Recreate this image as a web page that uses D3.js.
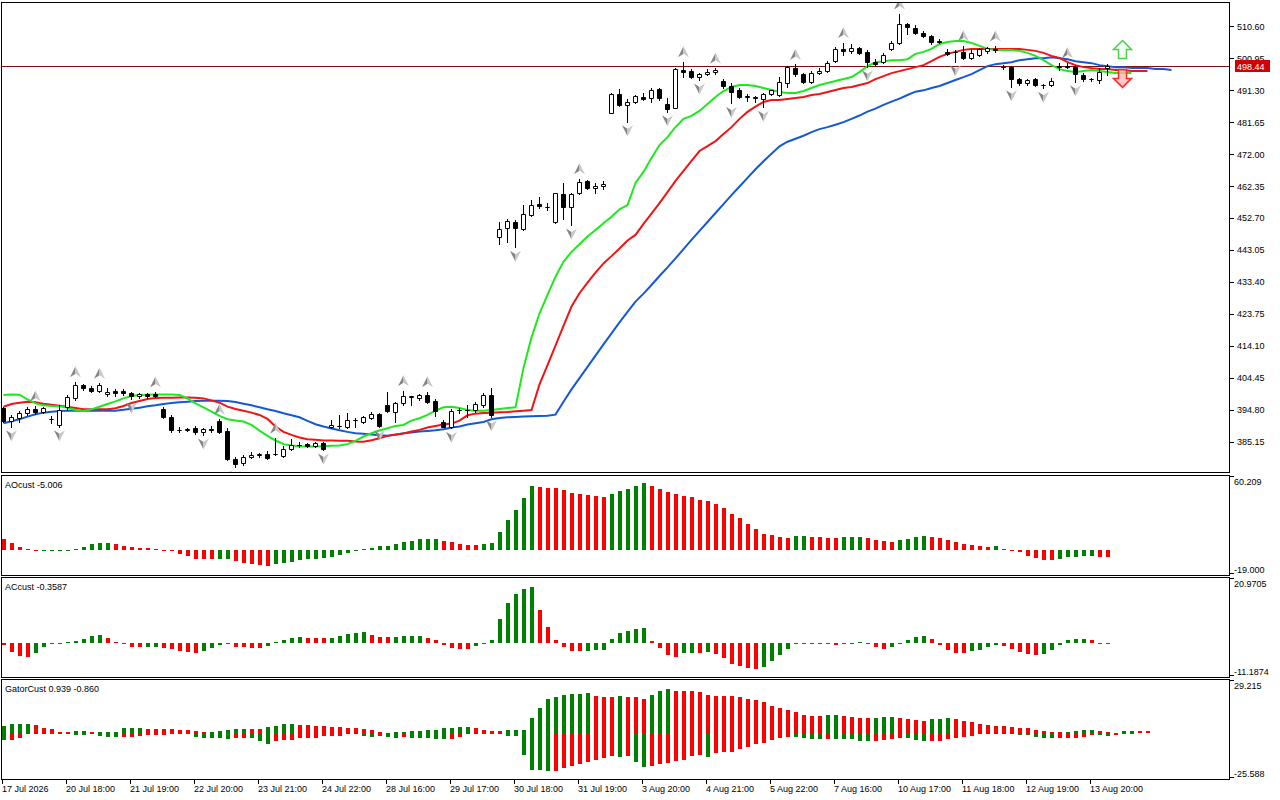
<!DOCTYPE html>
<html>
<head>
<meta charset="utf-8">
<title>Alligator chart</title>
<script src="https://cdn.jsdelivr.net/npm/d3@7/dist/d3.min.js"></script>
<style>
  html, body { margin: 0; padding: 0; background: #fff; }
  #chart { width: 1280px; height: 800px; }
  .chart-svg { display: block; font-family: "Liberation Sans", Arial, sans-serif; font-size: 9px; }
</style>
</head>
<body>
<div id="chart"></div>
<script>
// H1 candles
const openP = [
  395.51, 391.59, 392.29, 393.80, 395.10, 394.30, 392.09, 390.28, 395.81, 398.32,
  402.34, 401.54, 400.53, 399.53, 400.43, 400.53, 399.83, 399.12, 399.53, 399.63,
  395.00, 392.59, 388.77, 388.87, 389.27, 388.07, 388.97, 391.48, 388.47, 380.03,
  378.72, 380.73, 381.33, 381.53, 381.53, 380.93, 382.94, 384.25, 384.55, 383.95,
  384.75, 389.57, 390.07, 389.77, 391.78, 391.28, 392.28, 393.49, 396.30, 394.29,
  396.81, 398.82, 398.52, 399.32, 397.51, 391.28, 389.77, 394.79, 394.70, 394.79,
  396.30, 399.22, 446.87, 449.58, 451.59, 449.48, 453.60, 456.92, 456.11, 451.39,
  459.93, 455.91, 460.13, 463.85, 461.64, 462.34, 484.46, 489.99, 486.68, 487.58,
  489.29, 488.79, 491.50, 486.98, 485.97, 497.33, 497.03, 495.32, 496.13, 496.63,
  494.01, 492.61, 491.30, 489.29, 489.05, 488.69, 489.99, 489.79, 493.31, 497.83,
  496.13, 493.81, 496.33, 497.03, 500.15, 503.56, 503.16, 503.86, 502.66, 499.84,
  499.84, 503.76, 505.37, 511.20, 509.90, 508.59, 507.58, 505.97, 502.86, 502.86,
  502.86, 500.85, 501.85, 503.16, 503.56, 498.34, 498.13, 494.52, 493.51, 494.52,
  492.81, 492.81, 498.34, 498.40, 498.13, 495.83, 494.62, 494.32, 497.90,
];
const highP = [
  395.81, 393.29, 394.60, 395.81, 396.00, 395.81, 392.99, 396.31, 399.33, 403.35,
  402.70, 402.04, 402.90, 401.34, 401.13, 401.03, 400.13, 399.90, 399.83, 400.20,
  395.81, 393.29, 389.78, 389.47, 389.98, 389.27, 389.98, 391.99, 389.27, 380.53,
  381.23, 382.24, 381.73, 382.44, 386.26, 383.95, 386.06, 385.25, 384.75, 385.25,
  385.25, 391.78, 393.29, 393.99, 392.28, 392.99, 394.29, 393.79, 400.33, 397.31,
  400.63, 399.02, 399.52, 400.30, 398.01, 391.78, 394.99, 395.30, 396.30, 397.31,
  400.02, 401.33, 451.59, 452.29, 452.09, 456.62, 458.12, 458.93, 457.12, 460.33,
  463.15, 460.33, 464.50, 464.20, 463.35, 463.95, 490.29, 491.50, 488.59, 489.79,
  490.29, 491.80, 491.80, 488.79, 497.83, 499.84, 497.53, 496.53, 497.53, 497.83,
  494.52, 493.31, 491.80, 490.09, 489.49, 490.50, 491.30, 495.12, 498.50, 499.00,
  496.53, 497.03, 497.83, 500.15, 504.37, 505.57, 505.30, 504.17, 503.36, 500.55,
  502.36, 506.08, 514.22, 511.40, 510.90, 509.19, 507.89, 506.58, 503.56, 503.36,
  504.67, 503.36, 504.10, 504.30, 504.60, 498.84, 498.54, 494.82, 494.62, 495.02,
  493.11, 494.82, 499.34, 499.54, 498.54, 496.33, 494.82, 497.83, 499.00,
];
const lowP = [
  391.28, 389.78, 391.28, 393.29, 393.50, 393.80, 390.98, 389.78, 394.80, 397.82,
  400.83, 400.33, 400.13, 399.02, 399.02, 399.23, 398.12, 398.50, 398.52, 398.82,
  392.29, 388.27, 388.27, 388.37, 387.56, 387.25, 388.27, 387.77, 379.72, 377.51,
  378.22, 380.23, 380.73, 380.03, 381.23, 380.53, 382.74, 383.75, 383.54, 383.54,
  382.74, 389.27, 389.27, 389.27, 389.57, 390.98, 391.98, 389.77, 394.29, 391.28,
  396.30, 396.30, 397.81, 397.01, 392.99, 389.57, 389.27, 393.79, 392.79, 394.29,
  395.80, 392.79, 444.86, 445.56, 443.85, 449.08, 453.30, 455.61, 455.11, 451.29,
  452.29, 450.58, 459.93, 461.34, 460.33, 461.34, 484.26, 486.47, 481.75, 487.28,
  488.28, 487.78, 488.28, 484.77, 485.87, 495.32, 494.82, 494.32, 495.83, 496.13,
  491.80, 487.28, 488.79, 487.98, 487.78, 486.07, 489.69, 489.49, 492.10, 495.52,
  493.51, 493.51, 496.13, 496.83, 499.84, 501.85, 502.56, 502.16, 498.30, 498.70,
  499.34, 503.36, 505.27, 508.19, 508.09, 507.18, 505.17, 505.37, 501.85, 499.84,
  500.55, 500.55, 501.55, 502.36, 502.86, 497.53, 492.30, 492.80, 492.81, 492.61,
  491.80, 492.51, 497.33, 497.83, 493.81, 494.11, 494.00, 493.31, 495.90,
];
const closeP = [
  391.59, 392.59, 393.80, 395.10, 394.10, 395.30, 392.19, 394.80, 398.72, 402.34,
  401.34, 400.53, 402.24, 400.23, 400.03, 399.83, 399.12, 399.73, 399.02, 399.02,
  392.59, 388.77, 388.87, 388.97, 388.07, 388.97, 388.87, 388.27, 379.92, 378.52,
  380.53, 381.23, 381.43, 380.23, 381.63, 382.94, 384.25, 384.35, 383.95, 384.75,
  382.94, 390.27, 390.00, 391.78, 391.70, 392.59, 393.49, 390.07, 394.59, 396.81,
  399.02, 398.90, 399.22, 397.31, 394.59, 389.77, 394.39, 394.70, 394.79, 396.50,
  399.22, 393.29, 449.28, 451.79, 449.58, 453.90, 456.62, 456.31, 456.05, 460.13,
  456.11, 459.93, 463.65, 461.64, 462.34, 462.95, 490.09, 486.78, 487.58, 489.49,
  488.59, 491.30, 488.99, 485.57, 497.63, 496.83, 495.32, 496.13, 496.83, 497.33,
  492.51, 490.80, 489.29, 489.35, 488.99, 490.00, 491.20, 493.81, 498.34, 496.13,
  493.81, 496.33, 497.13, 499.34, 503.56, 503.16, 503.86, 502.56, 499.84, 499.14,
  501.85, 505.37, 511.20, 510.20, 508.39, 507.58, 505.87, 505.92, 502.16, 502.80,
  500.85, 502.36, 503.66, 503.86, 503.50, 498.30, 494.52, 493.31, 494.32, 492.81,
  492.75, 494.11, 498.40, 498.34, 496.13, 494.52, 494.52, 496.83, 498.44,
];

// alligator lines as drawn (already shifted forward: jaw 8, teeth 5, lips 3 bars)
const jawLine = [
  390.8, 391.4, 392.0, 392.8, 393.5, 394.0, 394.3, 394.5, 394.6, 394.6,
  394.6, 394.6, 394.6, 394.6, 394.6, 394.9, 395.2, 395.5, 395.9, 396.2,
  396.6, 396.9, 397.1, 397.3, 397.5, 397.6, 397.6, 397.6, 397.5, 397.2,
  396.7, 396.2, 395.6, 395.0, 394.5, 393.8, 393.2, 392.6, 391.5, 390.5,
  389.8, 389.2, 388.7, 388.2, 387.8, 387.6, 387.4, 387.2, 387.0, 387.3,
  387.8, 388.0, 388.3, 388.5, 388.7, 389.0, 389.5, 389.8, 390.4, 390.8,
  391.2, 392.0, 392.4, 392.6, 392.7, 392.8, 392.9, 393.0, 393.1, 393.4,
  397.3, 401.0, 404.4, 407.8, 411.2, 414.6, 417.9, 421.2, 424.4, 427.5,
  429.9, 432.5, 435.2, 437.8, 440.5, 443.3, 446.1, 448.8, 451.5, 454.2,
  456.9, 459.6, 462.2, 464.8, 467.4, 469.8, 472.1, 474.3, 475.7, 476.6,
  477.5, 478.6, 479.5, 480.1, 480.8, 481.6, 482.6, 483.6, 484.8, 485.7,
  486.8, 487.8, 488.7, 489.8, 490.8, 491.2, 491.9, 492.5, 493.4, 494.3,
  495.2, 496.1, 497.3, 498.5, 499.1, 499.4, 499.7, 500.3, 500.6, 500.9,
  500.9, 501.2, 500.9, 500.6, 500.0, 499.7, 499.4, 498.8, 498.5, 498.2,
  498.2, 497.9, 497.9, 497.9, 497.6, 497.6, 497.3,
];
const teethLine = [
  395.8, 396.6, 397.0, 397.3, 397.1, 396.7, 396.4, 396.1, 395.8, 395.4,
  395.0, 395.0, 395.0, 395.0, 395.3, 396.0, 396.9, 397.5, 398.1, 398.4,
  398.5, 398.5, 398.6, 398.6, 398.5, 398.3, 397.7, 397.0, 395.8, 395.1,
  394.6, 394.0, 393.3, 392.1, 389.8, 388.2, 387.3, 386.5, 386.0, 385.8,
  385.6, 385.6, 385.5, 385.5, 385.3, 385.2, 385.7, 386.3, 387.0, 387.4,
  387.7, 388.3, 388.8, 389.5, 390.0, 390.4, 390.7, 391.6, 393.2, 393.7,
  393.9, 394.0, 394.1, 394.2, 394.4, 394.6, 394.8, 402.5, 408.3, 414.2,
  420.2, 426.0, 430.0, 433.2, 436.2, 439.0, 441.2, 443.5, 445.9, 447.6,
  450.9, 454.0, 457.2, 460.5, 463.9, 466.9, 469.9, 472.9, 474.4, 475.9,
  478.0, 480.1, 482.6, 484.7, 486.3, 487.7, 488.3, 488.3, 488.6, 488.9,
  489.2, 489.8, 490.1, 490.7, 491.3, 491.9, 492.2, 492.8, 493.4, 494.6,
  495.5, 496.4, 497.0, 497.6, 498.2, 498.8, 500.0, 501.3, 502.2, 502.8,
  503.4, 503.7, 503.7, 503.7, 503.7, 503.7, 503.7, 503.7, 503.4, 503.1,
  502.5, 501.6, 501.0, 499.7, 498.8, 498.2, 497.9, 497.6, 497.6, 497.3,
  497.3, 497.0, 497.0, 497.0,
];
const lipsLine = [
  399.3, 399.5, 399.4, 398.0, 396.8, 396.2, 396.0, 395.9, 395.5, 394.8,
  394.5, 395.0, 395.8, 396.6, 397.4, 398.3, 399.0, 399.3, 399.4, 399.5,
  399.5, 399.5, 399.3, 398.3, 396.8, 395.6, 394.3, 393.0, 392.0, 391.6,
  391.3, 390.3, 388.6, 387.0, 385.6, 384.5, 384.1, 383.9, 383.8, 383.8,
  383.9, 384.0, 384.1, 384.5, 385.5, 386.8, 387.8, 388.6, 389.3, 390.0,
  390.3, 391.6, 392.3, 393.3, 394.6, 395.6, 395.8, 395.4, 394.8, 394.6,
  394.6, 394.8, 395.1, 395.4, 395.6, 407.5, 416.7, 423.9, 429.5, 435.0,
  439.5, 442.5, 444.8, 447.1, 449.1, 451.1, 453.1, 455.3, 456.6, 463.3,
  466.6, 470.8, 474.7, 477.1, 480.1, 482.6, 483.5, 485.0, 487.1, 489.2,
  491.0, 492.2, 492.8, 492.8, 492.5, 491.9, 491.3, 490.7, 490.4, 490.4,
  491.0, 491.9, 492.8, 493.4, 494.0, 494.6, 495.2, 496.7, 498.5, 499.7,
  500.0, 500.3, 500.3, 500.6, 502.2, 502.8, 503.7, 505.2, 505.8, 506.1,
  506.1, 505.5, 504.6, 503.7, 503.4, 503.4, 503.4, 503.1, 502.5, 501.6,
  500.3, 498.8, 497.6, 497.0, 496.7, 497.0, 497.3, 497.0, 496.7, 496.4,
  496.4, 496.4,
];

// fractal bars (index of the bar that carries the arrow)
const upFractals = [4, 9, 12, 19, 27, 34, 50, 53, 72, 85, 89, 99, 105, 112, 120, 124, 133];
const downFractals = [1, 7, 16, 25, 29, 40, 47, 56, 61, 64, 71, 78, 83, 87, 91, 95, 108, 119, 126, 130, 134];

// signal arrows at the right end
const signalBars = [140, 140];
const signalPrices = [503.5, 494.8];
const signalDirs = ["up", "down"];

const lastPrice = 498.44;
const priceTicks = [510.60, 500.95, 491.30, 481.65, 472.00, 462.35, 452.70, 443.05, 433.40, 423.75, 414.10, 404.45, 394.80, 385.15];

const aoValues = [
  9.0, 5.7, 3.0, 1.2, 0.5, 0.55, 0.6, 0.7, 0.8, 1.4,
  3.0, 4.9, 5.7, 6.0, 4.9, 3.8, 3.0, 2.4, 2.2, 1.6,
  0.5, 0.3, -3.0, -4.6, -6.5, -6.8, -7.1, -6.8, -6.5, -8.4,
  -10.1, -11.2, -12.0, -12.2, -11.2, -10.1, -9.3, -7.6, -7.1, -6.8,
  -6.3, -5.2, -3.8, -1.9, -0.5, 1.4, 2.2, 3.3, 3.8, 5.2,
  6.8, 7.3, 9.0, 9.1, 9.3, 7.3, 6.5, 4.9, 4.4, 4.1,
  5.2, 5.7, 15.0, 24.5, 32.7, 42.5, 52.3, 51.4, 50.6, 50.5,
  49.0, 46.5, 45.7, 45.2, 44.4, 43.0, 45.7, 48.4, 49.8, 52.3,
  54.7, 52.3, 49.8, 47.4, 45.7, 44.1, 43.3, 40.8, 40.0, 37.6,
  34.3, 29.4, 26.1, 21.2, 17.1, 13.1, 12.2, 10.6, 10.5, 11.4,
  11.6, 11.3, 10.6, 10.5, 9.8, 10.6, 10.75, 10.9, 9.8, 8.2,
  7.3, 7.2, 8.2, 9.0, 10.6, 11.4, 11.3, 9.8, 8.2, 6.5,
  4.9, 4.1, 3.3, 3.1, 3.3, 1.6, 0.3, -1.1, -4.1, -5.7,
  -7.3, -7.5, -6.5, -5.2, -4.9, -4.8, -4.1, -4.9, -5.006,
];
const acValues = [
  -0.76, -3.14, -4.23, -4.55, -3.46, -1.52, -0.32, -0.16, 0.22, 0.54,
  1.19, 2.27, 2.33, 1.62, 0.16, -0.54, -1.30, -1.57, -1.52, -1.30,
  -1.62, -2.17, -2.81, -3.14, -3.46, -2.81, -1.84, -0.65, -0.54, -1.30,
  -1.52, -1.84, -1.89, -1.19, 0.11, 0.87, 1.62, 1.84, 1.62, 1.41,
  1.35, 1.62, 2.27, 2.92, 3.25, 3.57, 2.60, 1.95, 1.84, 1.95,
  1.97, 2.10, 2.27, 1.62, 0.97, -0.65, -1.84, -2.17, -2.22, -1.19,
  -0.22, 0.97, 7.80, 13.0, 15.9, 17.5, 18.2, 10.7, 4.9, 0.97,
  -1.52, -2.81, -2.87, -2.60, -2.55, -2.27, 1.30, 3.25, 3.90, 4.55,
  4.60, 0.65, -1.84, -3.90, -4.55, -3.46, -3.25, -3.30, -2.92, -3.57,
  -5.09, -6.82, -7.47, -8.12, -8.45, -8.01, -5.85, -3.90, -1.95, -0.22,
  -0.18, -0.15, -0.30, -0.54, -0.65, -0.20, -0.10, 0.10, -0.10, -1.52,
  -1.95, -1.52, -0.10, 0.97, 1.95, 1.97, 1.30, -0.65, -2.27, -3.25,
  -3.30, -2.60, -2.27, -1.30, -0.65, -0.97, -1.95, -2.92, -3.57, -3.90,
  -3.57, -2.27, -0.65, 0.97, 1.25, 1.30, 0.97, -0.20, -0.3587,
];
// gator: |jaw - teeth| above zero, |teeth - lips| below zero
const gatorUpper = [
  3.87, 4.80, 4.85, 4.90, 4.43, 2.77, 1.85, 0.55, 0.54, 1.11,
  1.12, 0.55, 0.56, 0.57, 0.58, 2.40, 2.77, 2.78, 2.21, 2.20,
  2.19, 1.85, 1.66, 1.48, 1.11, 0.55, 0.56, 1.11, 1.48, 2.21,
  2.22, 2.21, 2.20, 2.95, 3.87, 4.80, 4.81, 4.43, 4.42, 3.87,
  3.86, 3.32, 3.31, 2.77, 2.76, 2.21, 1.66, 0.55, 0.15, 0.20,
  0.55, 1.11, 1.12, 1.66, 1.67, 2.77, 2.78, 3.32, 3.33, 2.77,
  1.66, 1.11, 1.10, 1.66, 1.67, 1.70, 8.1, 13.7, 18.6, 19.9,
  20.8, 21.6, 21.7, 21.75, 20.6, 19.9, 19.85, 20.1, 19.9, 19.85,
  18.6, 21.0, 23.2, 24.2, 23.2, 23.15, 23.1, 22.3, 21.0, 20.5,
  20.4, 20.3, 19.6, 18.6, 18.3, 16.8, 14.9, 13.8, 12.4, 11.3,
  9.8, 9.4, 9.3, 9.6, 9.65, 9.2, 8.5, 8.45, 8.3, 8.35,
  8.9, 8.95, 8.1, 7.4, 7.0, 6.6, 7.4, 7.9, 8.3, 7.9,
  6.6, 5.7, 4.6, 4.55, 3.9, 3.85, 3.3, 2.8, 2.75, 1.7,
  0.9, 0.55, 0.3, 0.6, 1.1, 1.7, 1.75, 1.1, 0.55, 0.1,
  0.9, 1.1, 0.95, 0.939,
];
const gatorLower = [
  4.06, 4.00, 3.14, 0.74, 0.37, 0.92, 0.55, 0.54, 0.53, 1.11,
  1.12, 0.55, 1.66, 2.21, 2.22, 2.21, 2.20, 1.66, 1.11, 1.10,
  1.09, 0.92, 0.55, 0.54, 2.21, 3.14, 3.15, 3.16, 3.17, 3.10,
  2.77, 3.14, 4.80, 6.09, 4.80, 4.06, 4.05, 2.77, 2.76, 2.75,
  1.66, 1.65, 1.64, 0.92, 0.91, 1.66, 2.21, 1.66, 2.21, 2.77,
  2.21, 3.14, 3.15, 3.16, 3.17, 3.50, 3.49, 2.21, 0.92, 0.55,
  0.92, 0.91, 0.92, 1.66, 1.67, 12.2, 20.5, 20.6, 21.0, 20.9,
  19.7, 18.3, 17.2, 16.1, 14.9, 14.2, 12.7, 13.3, 12.7, 16.4,
  19.2, 18.3, 17.3, 16.8, 15.5, 14.9, 12.7, 12.4, 13.3, 11.4,
  10.9, 10.5, 9.0, 8.1, 6.3, 5.9, 4.1, 2.8, 2.2, 2.25,
  2.8, 3.5, 3.55, 3.45, 3.5, 3.55, 3.6, 4.4, 4.8, 4.75,
  4.1, 3.3, 2.8, 3.1, 4.1, 4.8, 4.75, 4.4, 3.5, 2.8,
  2.2, 1.7, 0.55, 0.6, 0.55, 0.74, 0.75, 1.3, 1.35, 2.2,
  3.0, 3.1, 3.05, 3.0, 2.8, 2.2, 1.3, 1.35, 1.7, 1.3,
  0.9, 0.860,
];

const timeLabelBars = [0, 8, 16, 24, 32, 40, 48, 56, 64, 72, 80, 88, 96, 104, 112, 120, 128, 136];
const timeLabels = [
  "17 Jul 2026", "20 Jul 18:00", "21 Jul 19:00", "22 Jul 20:00", "23 Jul 21:00", "24 Jul 22:00",
  "28 Jul 16:00", "29 Jul 17:00", "30 Jul 18:00", "31 Jul 19:00", "3 Aug 20:00", "4 Aug 21:00",
  "5 Aug 22:00", "7 Aug 16:00", "10 Aug 17:00", "11 Aug 18:00", "12 Aug 19:00", "13 Aug 20:00",
];

class AlligatorChart {
  constructor({ elChart }) {
    this.elChart = elChart;
    this.init();
  }

  init() {
    this.setup();
    this.scaffold();
    this.render();
  }

  setup() {
    this.width = 1280;
    this.height = 800;
    this.plotRight = 1229;

    // one bar every 8px
    this.x = d3.scaleLinear().domain([0, 1]).range([3, 11]);

    this.mainPanel = { top: 2, bottom: 472 };
    this.yMain = d3.scaleLinear().domain([376.1, 517.84]).range([472, 2]);

    this.subPanels = [
      { key: "ao", top: 475, bottom: 575, domain: [-19.0, 60.209], range: [574, 476], digits: 3 },
      { key: "ac", top: 577, bottom: 677, domain: [-11.1874, 20.9705], range: [677, 578], digits: 4 },
      { key: "gator", top: 679, bottom: 779, domain: [-25.588, 29.215], range: [779, 680], digits: 3 },
    ];
    this.subPanels.forEach((p) => {
      p.y = d3.scaleLinear().domain(p.domain).range(p.range);
    });

    this.color = {
      jaw: "#1558d6",
      teeth: "#f01414",
      lips: "#1ee81e",
      up: "#008000",
      down: "#ff0000",
    };

    this.line = d3
      .line()
      .x((d, i) => this.cx(i) + 0.5)
      .y((d) => this.yMain(d));
  }

  cx(i) {
    return Math.round(this.x(i));
  }

  scaffold() {
    this.svg = d3
      .select(this.elChart)
      .append("svg")
      .attr("class", "chart-svg")
      .attr("width", this.width)
      .attr("height", this.height);

    const defs = this.svg.append("defs");
    const panels = [{ key: "main", ...this.mainPanel }, ...this.subPanels];
    panels.forEach((p) => {
      defs
        .append("clipPath")
        .attr("id", `clip-${p.key}`)
        .append("rect")
        .attr("x", 2)
        .attr("y", p.top + 1)
        .attr("width", this.plotRight - 2)
        .attr("height", p.bottom - p.top - 1);
    });

    this.gFrames = this.svg.append("g").attr("class", "frames");
    panels.forEach((p) => {
      this.gFrames
        .append("rect")
        .attr("x", 1.5)
        .attr("y", p.top + 0.5)
        .attr("width", this.plotRight - 1)
        .attr("height", p.bottom - p.top)
        .attr("fill", "none")
        .attr("stroke", "#000");
    });

    this.gMain = this.svg.append("g").attr("clip-path", "url(#clip-main)");
    this.gAxis = this.svg.append("g").attr("class", "axes");
  }

  render() {
    this.renderLines();
    this.renderCandles();
    this.renderFractals();
    this.renderSignals();
    this.renderPriceAxis();
    this.renderSubPanels();
    this.renderTimeAxis();
  }

  renderLines() {
    const yLast = Math.round(this.yMain(lastPrice)) + 0.5;
    this.gMain
      .append("line")
      .attr("x1", 2)
      .attr("x2", this.plotRight)
      .attr("y1", yLast)
      .attr("y2", yLast)
      .attr("stroke", "#7a1010")
      .attr("stroke-width", 1);

    const lines = [
      { values: jawLine, color: this.color.jaw },
      { values: teethLine, color: this.color.teeth },
      { values: lipsLine, color: this.color.lips },
    ];
    this.gMain
      .append("g")
      .selectAll("path")
      .data(lines)
      .join("path")
      .attr("fill", "none")
      .attr("stroke", (d) => d.color)
      .attr("stroke-width", 2)
      .attr("d", (d) => this.line(d.values));
  }

  renderCandles() {
    const candles = openP.map((o, i) => ({ i, o, h: highP[i], l: lowP[i], c: closeP[i] }));
    const g = this.gMain.append("g").attr("class", "candles");

    g.selectAll(".wick")
      .data(candles)
      .join("line")
      .attr("class", "wick")
      .attr("x1", (d) => this.cx(d.i) + 0.5)
      .attr("x2", (d) => this.cx(d.i) + 0.5)
      .attr("y1", (d) => Math.round(this.yMain(d.h)))
      .attr("y2", (d) => Math.round(this.yMain(d.l)) + 1)
      .attr("stroke", "#000");

    g.selectAll(".body")
      .data(candles)
      .join("path")
      .attr("class", "body")
      .attr("d", (d) => {
        const top = Math.round(this.yMain(Math.max(d.o, d.c)));
        const bottom = Math.round(this.yMain(Math.min(d.o, d.c)));
        return `M${this.cx(d.i) - 1.5},${top + 0.5}h4v${bottom - top}h-4Z`;
      })
      .attr("fill", (d) => (d.c >= d.o ? "#fff" : "#000"))
      .attr("stroke", "#000");
  }

  renderFractals() {
    const g = this.gMain.append("g").attr("class", "fractals");
    const marks = [
      ...upFractals.map((i) => ({ i, dir: 1, y: this.yMain(highP[i]) - 10 })),
      ...downFractals.map((i) => ({ i, dir: -1, y: this.yMain(lowP[i]) + 9 })),
    ];
    const mark = g
      .selectAll("g")
      .data(marks)
      .join("g")
      .attr("transform", (d) => `translate(${this.cx(d.i) + 0.5},${d.y}) scale(1,${d.dir})`);
    mark.append("path").attr("d", "M0,-5.5L-5.5,5.5L0,2Z").attr("fill", "#858585");
    mark.append("path").attr("d", "M0,-5.5L5.5,5.5L0,2Z").attr("fill", "#c8c8c8");
  }

  renderSignals() {
    const g = this.svg.append("g").attr("class", "signals");
    const data = signalBars.map((b, k) => ({ b, price: signalPrices[k], dir: signalDirs[k] }));
    g.selectAll("path")
      .data(data)
      .join("path")
      .attr("transform", (d) => `translate(${this.cx(d.b) - 0.5},${this.yMain(d.price)}) scale(1,${d.dir === "up" ? 1 : -1})`)
      .attr("d", "M0,-9L9,0L4,0L4,9L-4,9L-4,0L-9,0Z")
      .attr("fill", (d) => (d.dir === "up" ? "#f2fff2" : "#ffb4b4"))
      .attr("fill-opacity", 0.75)
      .attr("stroke", (d) => (d.dir === "up" ? "#4ccf4c" : "#ff2a2a"))
      .attr("stroke-width", 1.5);
  }

  renderPriceAxis() {
    const g = this.gAxis.append("g");
    const tick = g.selectAll(".ptick").data(priceTicks).join("g").attr("class", "ptick");
    tick
      .append("line")
      .attr("x1", this.plotRight)
      .attr("x2", this.plotRight + 5)
      .attr("y1", (d) => Math.round(this.yMain(d)) + 0.5)
      .attr("y2", (d) => Math.round(this.yMain(d)) + 0.5)
      .attr("stroke", "#000");
    tick
      .append("text")
      .attr("x", this.plotRight + 8)
      .attr("y", (d) => this.yMain(d) + 3.5)
      .attr("fill", "#000")
      .text((d) => d.toFixed(2));

    const yLast = Math.round(this.yMain(lastPrice));
    g.append("rect")
      .attr("x", this.plotRight + 6)
      .attr("y", yLast - 6)
      .attr("width", 35)
      .attr("height", 12)
      .attr("fill", "#d40000");
    g.append("text")
      .attr("x", this.plotRight + 8)
      .attr("y", yLast + 3.5)
      .attr("fill", "#fff")
      .text(lastPrice.toFixed(2));
  }

  renderHistogram(g, y, values, sign, firstUp) {
    const y0 = Math.round(y(0));
    g.selectAll("rect.bar-" + (sign > 0 ? "p" : "n"))
      .data(values)
      .join("rect")
      .attr("class", "bar-" + (sign > 0 ? "p" : "n"))
      .attr("x", (d, i) => this.cx(i) - 1)
      .attr("width", 4)
      .attr("y", (d) => Math.min(y0, Math.round(y(sign * d))))
      .attr("height", (d) => Math.max(1, Math.abs(Math.round(y(sign * d)) - y0)))
      .attr("fill", (d, i) => {
        const rising = i === 0 ? firstUp : d > values[i - 1];
        return rising ? this.color.up : this.color.down;
      });
  }

  renderSubPanels() {
    const [ao, ac, gator] = this.subPanels;

    const gAo = this.svg.append("g").attr("clip-path", "url(#clip-ao)");
    this.renderHistogram(gAo, ao.y, aoValues, 1, false);

    const gAc = this.svg.append("g").attr("clip-path", "url(#clip-ac)");
    this.renderHistogram(gAc, ac.y, acValues, 1, false);

    const gGator = this.svg.append("g").attr("clip-path", "url(#clip-gator)");
    this.renderHistogram(gGator, gator.y, gatorUpper, 1, true);
    this.renderHistogram(gGator, gator.y, gatorLower, -1, true);

    const titles = [
      `AOcust ${aoValues[aoValues.length - 1].toFixed(3)}`,
      `ACcust ${acValues[acValues.length - 1].toFixed(4)}`,
      `GatorCust ${gatorUpper[gatorUpper.length - 1].toFixed(3)} ${(-gatorLower[gatorLower.length - 1]).toFixed(3)}`,
    ];

    this.subPanels.forEach((p, k) => {
      this.svg
        .append("text")
        .attr("x", 5)
        .attr("y", p.top + 13)
        .attr("fill", "#000")
        .text(titles[k]);

      const ends = [
        { v: p.domain[1], ty: p.top + 1.5, by: p.top + 9.5 },
        { v: p.domain[0], ty: p.bottom - 1.5, by: p.bottom - 2.5 },
      ];
      ends.forEach((e) => {
        this.gAxis
          .append("line")
          .attr("x1", this.plotRight)
          .attr("x2", this.plotRight + 5)
          .attr("y1", e.ty)
          .attr("y2", e.ty)
          .attr("stroke", "#000");
        this.gAxis
          .append("text")
          .attr("x", this.plotRight + 5)
          .attr("y", e.by)
          .attr("fill", "#000")
          .text(e.v.toFixed(p.digits));
      });
    });
  }

  renderTimeAxis() {
    const bottom = this.subPanels[2].bottom;
    const g = this.gAxis.append("g");
    const t = g
      .selectAll(".ttick")
      .data(d3.zip(timeLabelBars, timeLabels))
      .join("g")
      .attr("class", "ttick");
    t.append("line")
      .attr("x1", (d) => this.cx(d[0]) - 0.5)
      .attr("x2", (d) => this.cx(d[0]) - 0.5)
      .attr("y1", bottom)
      .attr("y2", bottom + 5)
      .attr("stroke", "#000");
    t.append("text")
      .attr("x", (d) => this.cx(d[0]) - 1)
      .attr("y", bottom + 13)
      .attr("fill", "#000")
      .text((d) => d[1]);
  }
}

new AlligatorChart({ elChart: document.getElementById("chart") });
</script>
</body>
</html>
